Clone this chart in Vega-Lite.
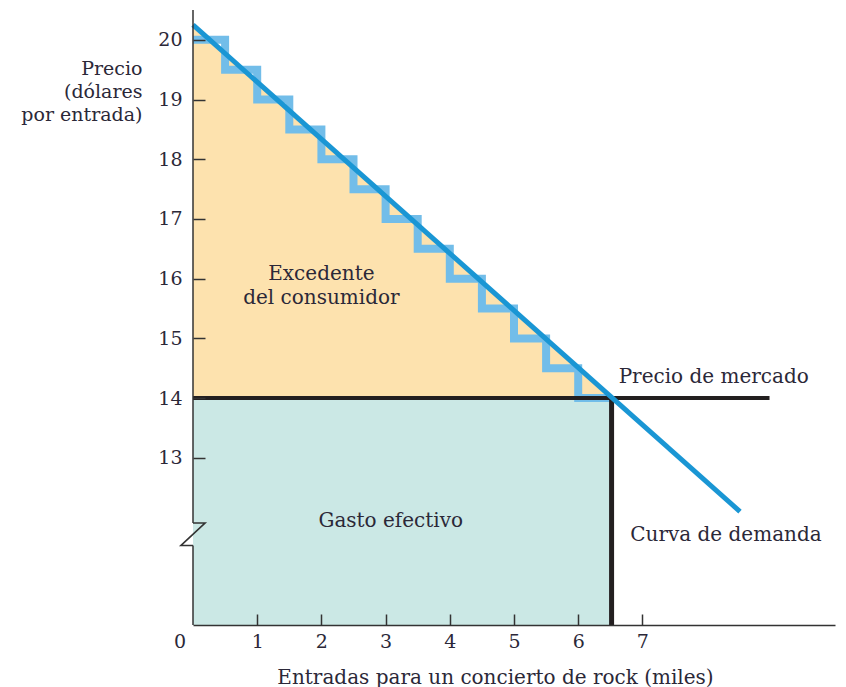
{
  "$schema": "https://vega.github.io/schema/vega-lite/v6.json",
  "width": 642,
  "height": 615,
  "autosize": {"type": "none"},
  "padding": {"left": 193, "top": 10, "right": 11, "bottom": 62},
  "background": "white",
  "config": {"view": {"stroke": null}, "font": "DejaVu Serif"},
  "datasets": {
    "gasto": [{"q0": 0, "q1": 6.52, "p0": 10.2, "p1": 14}],
    "surplus": [{"q": 0, "p": 20.25, "base": 14}, {"q": 6.52, "p": 14, "base": 14}],
    "stairs": [
      {"q": 0, "p": 20}, {"q": 0.5, "p": 19.5}, {"q": 1, "p": 19}, {"q": 1.5, "p": 18.5},
      {"q": 2, "p": 18}, {"q": 2.5, "p": 17.5}, {"q": 3, "p": 17}, {"q": 3.5, "p": 16.5},
      {"q": 4, "p": 16}, {"q": 4.5, "p": 15.5}, {"q": 5, "p": 15}, {"q": 5.5, "p": 14.5},
      {"q": 6, "p": 14}, {"q": 6.52, "p": 14}
    ],
    "demand": [{"q": 0, "p": 20.25}, {"q": 8.52, "p": 12.1}],
    "price": [{"q0": 0, "q1": 8.98, "p": 14}],
    "qty": [{"q": 6.52, "p0": 10.2, "p1": 14}],
    "yaxis": [{"q": 0, "p0": 10.2, "p1": 11.53}, {"q": 0, "p0": 11.91, "p1": 20.5}],
    "zigzag": [
      {"i": 0, "q": 0, "p": 11.91}, {"i": 1, "q": 0.19, "p": 11.91},
      {"i": 2, "q": -0.19, "p": 11.53}, {"i": 3, "q": 0, "p": 11.53}
    ],
    "centerLabels": [
      {"q": 2.0, "p": 15.97, "t": "Excedente"},
      {"q": 2.0, "p": 15.57, "t": "del consumidor"},
      {"q": 3.08, "p": 11.84, "t": "Gasto efectivo"}
    ],
    "leftLabels": [
      {"q": 6.63, "p": 14.26, "t": "Precio de mercado"},
      {"q": 6.81, "p": 11.6, "t": "Curva de demanda"}
    ],
    "zero": [{"q": 0, "p": 10.2, "t": "0"}]
  },
  "layer": [
    {
      "data": {"name": "gasto"},
      "mark": {"type": "rect", "color": "#cbe8e5"},
      "encoding": {
        "x": {
          "field": "q0", "type": "quantitative",
          "scale": {"domain": [0, 10], "nice": false, "zero": false},
          "axis": {
            "values": [1, 2, 3, 4, 5, 6, 7], "format": "d", "tickSize": -11, "tickWidth": 1.5, "tickColor": "#333",
            "domainColor": "#333", "domainWidth": 1.5, "grid": false, "zindex": 1,
            "labelFontSize": 19, "labelColor": "#2b2838", "labelPadding": 18,
            "title": "Entradas para un concierto de rock (miles)", "titleFontSize": 20,
            "titleFontWeight": "normal", "titleColor": "#2b2838",
            "titleAlign": "center", "titleX": 302, "titleY": 58, "titleBaseline": "alphabetic"
          }
        },
        "x2": {"field": "q1"},
        "y": {
          "field": "p0", "type": "quantitative",
          "scale": {"domain": [10.2, 20.5], "nice": false, "zero": false},
          "axis": {
            "values": [13, 14, 15, 16, 17, 18, 19, 20], "format": "d", "tickSize": -12, "tickWidth": 1.5, "tickColor": "#333",
            "domain": false, "grid": false, "zindex": 1,
            "labelFontSize": 19, "labelColor": "#2b2838", "labelPadding": 23,
            "title": ["Precio", "(dólares", "por entrada)"], "titleFontSize": 19,
            "titleFontWeight": "normal", "titleColor": "#2b2838", "titleAngle": 0,
            "titleAlign": "right", "titleBaseline": "alphabetic", "titleX": -51, "titleY": 64,
            "titleLineHeight": 23
          }
        },
        "y2": {"field": "p1"}
      }
    },
    {
      "data": {"name": "surplus"},
      "mark": {"type": "area", "color": "#fde2ae", "opacity": 1},
      "encoding": {
        "x": {"field": "q", "type": "quantitative"},
        "y": {"field": "p", "type": "quantitative"},
        "y2": {"field": "base"}
      }
    },
    {
      "data": {"name": "stairs"},
      "mark": {"type": "line", "interpolate": "step-after", "color": "#72bde9", "strokeWidth": 8, "strokeJoin": "miter", "strokeCap": "butt"},
      "encoding": {
        "x": {"field": "q", "type": "quantitative"},
        "y": {"field": "p", "type": "quantitative"}
      }
    },
    {
      "data": {"name": "price"},
      "mark": {"type": "rule", "color": "#231f20", "strokeWidth": 4},
      "encoding": {
        "x": {"field": "q0", "type": "quantitative"},
        "x2": {"field": "q1"},
        "y": {"field": "p", "type": "quantitative"}
      }
    },
    {
      "data": {"name": "qty"},
      "mark": {"type": "rule", "color": "#231f20", "strokeWidth": 5},
      "encoding": {
        "x": {"field": "q", "type": "quantitative"},
        "y": {"field": "p0", "type": "quantitative"},
        "y2": {"field": "p1"}
      }
    },
    {
      "data": {"name": "demand"},
      "mark": {"type": "line", "color": "#1a96d4", "strokeWidth": 5},
      "encoding": {
        "x": {"field": "q", "type": "quantitative"},
        "y": {"field": "p", "type": "quantitative"}
      }
    },
    {
      "data": {"name": "yaxis"},
      "mark": {"type": "rule", "color": "#333", "strokeWidth": 1.5},
      "encoding": {
        "x": {"field": "q", "type": "quantitative"},
        "y": {"field": "p0", "type": "quantitative"},
        "y2": {"field": "p1"}
      }
    },
    {
      "data": {"name": "zigzag"},
      "mark": {"type": "line", "color": "#333", "strokeWidth": 1.5, "strokeJoin": "miter"},
      "encoding": {
        "x": {"field": "q", "type": "quantitative"},
        "y": {"field": "p", "type": "quantitative"},
        "order": {"field": "i", "type": "quantitative"}
      }
    },
    {
      "data": {"name": "centerLabels"},
      "mark": {"type": "text", "align": "center", "baseline": "alphabetic", "fontSize": 20, "color": "#2b2838"},
      "encoding": {
        "x": {"field": "q", "type": "quantitative"},
        "y": {"field": "p", "type": "quantitative"},
        "text": {"field": "t"}
      }
    },
    {
      "data": {"name": "leftLabels"},
      "mark": {"type": "text", "align": "left", "baseline": "alphabetic", "fontSize": 20, "color": "#2b2838"},
      "encoding": {
        "x": {"field": "q", "type": "quantitative"},
        "y": {"field": "p", "type": "quantitative"},
        "text": {"field": "t"}
      }
    },
    {
      "data": {"name": "zero"},
      "mark": {"type": "text", "align": "center", "baseline": "alphabetic", "fontSize": 19, "dx": -13, "dy": 23, "color": "#2b2838"},
      "encoding": {
        "x": {"field": "q", "type": "quantitative"},
        "y": {"field": "p", "type": "quantitative"},
        "text": {"field": "t"}
      }
    }
  ]
}
